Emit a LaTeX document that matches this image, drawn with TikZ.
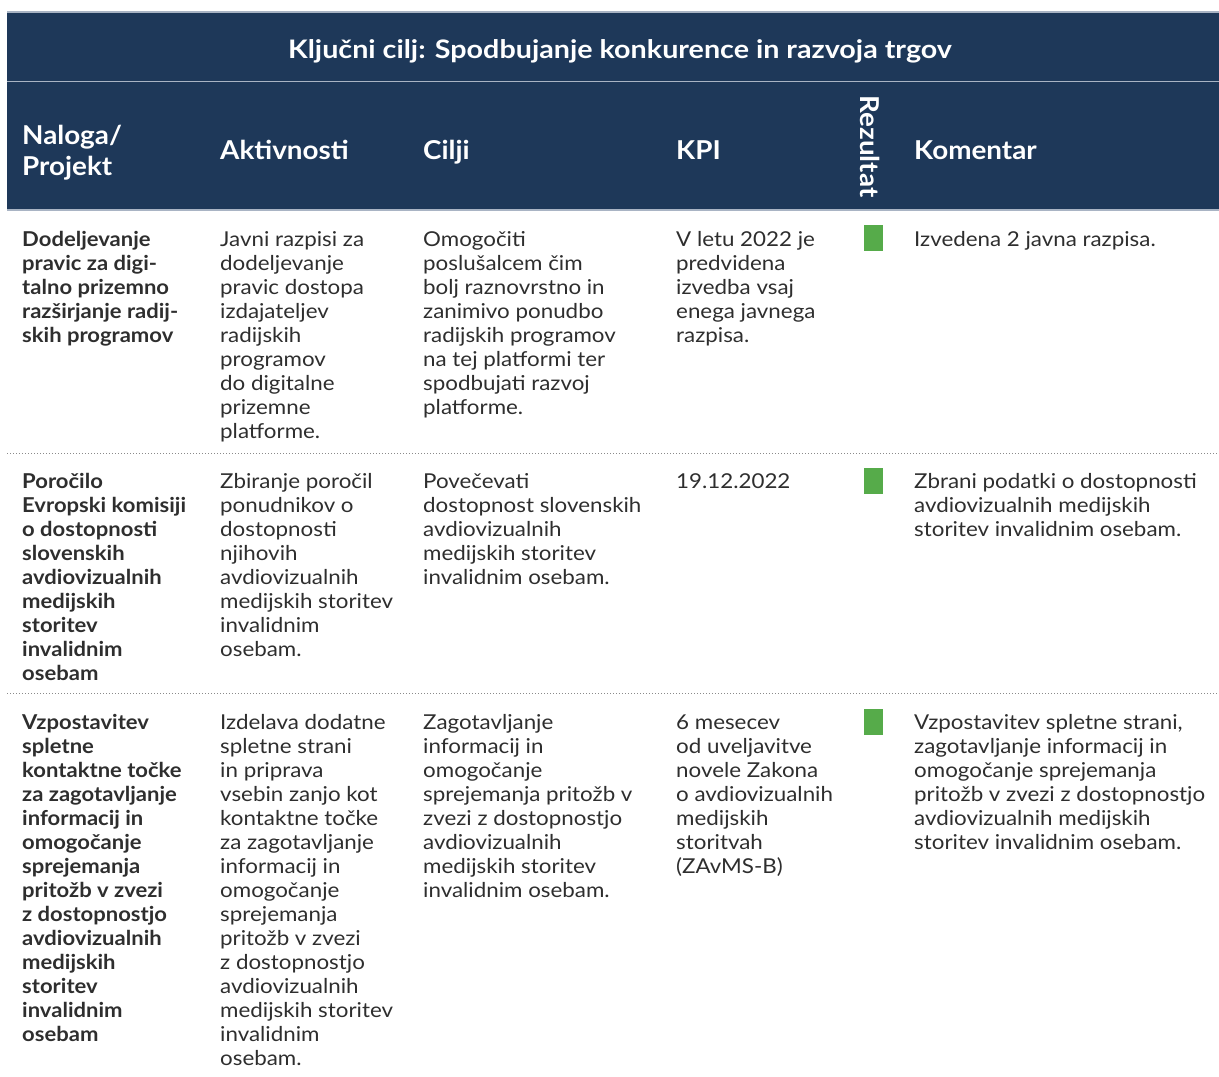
\documentclass[tikz,border=0pt]{standalone}
\usepackage{fontspec}
\setmainfont{Lato}
\newfontfamily\bodyfont[FakeStretch=1.09]{Lato}
\newfontfamily\colfont[FakeStretch=1.075]{Lato}
\newfontfamily\headfont[FakeStretch=1.07]{Lato}
\newfontfamily\titlefont[FakeStretch=1.125]{Lato}
\definecolor{hdrbg}{HTML}{1E3859}
\definecolor{hdrline}{HTML}{A9B4C4}
\definecolor{txt}{HTML}{2E2E2E}
\definecolor{okgreen}{HTML}{56AB4A}
\definecolor{dotgray}{HTML}{8A8A8A}
\newcommand\cellbox[1]{\parbox[t]{330pt}{\raggedright #1}}
\tikzset{
  bodytext/.style={anchor=base west, inner sep=0pt, text=txt, font=\bodyfont\fontsize{20.5}{24}\selectfont},
  boldtext/.style={bodytext, font=\colfont\fontsize{20.5}{24}\selectfont\bfseries},
  headtext/.style={anchor=base west, inner sep=0pt, text=white, font=\headfont\fontsize{26}{31}\selectfont\bfseries},
  titletext/.style={anchor=base, inner sep=0pt, text=white, font=\titlefont\fontsize{25.5}{30}\selectfont\bfseries},
  statusbox/.style={fill=okgreen, draw=none},
  rowsep/.style={draw=dotgray, line width=1pt, dotted},
  hdrsep/.style={draw=hdrline, line width=1.2pt}
}
\begin{document}
\begin{tikzpicture}[x=1pt,y=-1pt]
\useasboundingbox (0,0) rectangle (1219,1077);
% header band
\fill[hdrbg] (7,12) rectangle (1219,210);
\draw[hdrsep] (7,12) -- (1219,12);
\draw[hdrsep] (7,81.5) -- (1219,81.5);
\draw[hdrsep] (7,210) -- (1219,210);
\node[titletext] (title) at (620,58) {Ključni cilj: Spodbujanje konkurence in razvoja trgov};
\node[headtext] (hnal) at (22,144) {\cellbox{Naloga/\\Projekt}};
\node[headtext] (hakt) at (220,159) {Aktivnosti};
\node[headtext] (hcil) at (423,159) {Cilji};
\node[headtext] (hkpi) at (676,159) {KPI};
\node[inner sep=0pt, text=white, font=\headfont\fontsize{26}{31}\selectfont\bfseries, rotate=-90] (hrez) at (870,146.5) {Rezultat};
\node[headtext] (hkom) at (914,159) {Komentar};
% separators
\draw[rowsep] (7,453) -- (1219,453);
\draw[rowsep] (7,693) -- (1219,693);
% row 1
\node[boldtext] (r1a) at (22,246) {\cellbox{Dodeljevanje\\pravic za digi-\\talno prizemno\\razširjanje radij-\\skih programov}};
\node[bodytext] (r1b) at (220,246) {\cellbox{Javni razpisi za\\dodeljevanje\\pravic dostopa\\izdajateljev\\radijskih\\programov\\do digitalne\\prizemne\\platforme.}};
\node[bodytext] (r1c) at (423,246) {\cellbox{Omogočiti\\poslušalcem čim\\bolj raznovrstno in\\zanimivo ponudbo\\radijskih programov\\na tej platformi ter\\spodbujati razvoj\\platforme.}};
\node[bodytext] (r1d) at (676,246) {\cellbox{V letu 2022 je\\predvidena\\izvedba vsaj\\enega javnega\\razpisa.}};
\fill[statusbox] (864,225) rectangle (883,251);
\node[bodytext] (r1f) at (914,246) {\cellbox{Izvedena 2 javna razpisa.}};
% row 2
\node[boldtext] (r2a) at (22,488) {\cellbox{Poročilo\\Evropski komisiji\\o dostopnosti\\slovenskih\\avdiovizualnih\\medijskih\\storitev\\invalidnim\\osebam}};
\node[bodytext] (r2b) at (220,488) {\cellbox{Zbiranje poročil\\ponudnikov o\\dostopnosti\\njihovih\\avdiovizualnih\\medijskih storitev\\invalidnim\\osebam.}};
\node[bodytext] (r2c) at (423,488) {\cellbox{Povečevati\\dostopnost slovenskih\\avdiovizualnih\\medijskih storitev\\invalidnim osebam.}};
\node[bodytext] (r2d) at (676,488) {\cellbox{19.12.2022}};
\fill[statusbox] (864,468) rectangle (883,494);
\node[bodytext] (r2f) at (914,488) {\cellbox{Zbrani podatki o dostopnosti\\avdiovizualnih medijskih\\storitev invalidnim osebam.}};
% row 3
\node[boldtext] (r3a) at (22,729) {\cellbox{Vzpostavitev\\spletne\\kontaktne točke\\za zagotavljanje\\informacij in\\omogočanje\\sprejemanja\\pritožb v zvezi\\z dostopnostjo\\avdiovizualnih\\medijskih\\storitev\\invalidnim\\osebam}};
\node[bodytext] (r3b) at (220,729) {\cellbox{Izdelava dodatne\\spletne strani\\in priprava\\vsebin zanjo kot\\kontaktne točke\\za zagotavljanje\\informacij in\\omogočanje\\sprejemanja\\pritožb v zvezi\\z dostopnostjo\\avdiovizualnih\\medijskih storitev\\invalidnim\\osebam.}};
\node[bodytext] (r3c) at (423,729) {\cellbox{Zagotavljanje\\informacij in\\omogočanje\\sprejemanja pritožb v\\zvezi z dostopnostjo\\avdiovizualnih\\medijskih storitev\\invalidnim osebam.}};
\node[bodytext] (r3d) at (676,729) {\cellbox{6 mesecev\\od uveljavitve\\novele Zakona\\o avdiovizualnih\\medijskih\\storitvah\\(ZAvMS-B)}};
\fill[statusbox] (864,709) rectangle (883,735);
\node[bodytext] (r3f) at (914,729) {\cellbox{Vzpostavitev spletne strani,\\zagotavljanje informacij in\\omogočanje sprejemanja\\pritožb v zvezi z dostopnostjo\\avdiovizualnih medijskih\\storitev invalidnim osebam.}};
\end{tikzpicture}
\end{document}
